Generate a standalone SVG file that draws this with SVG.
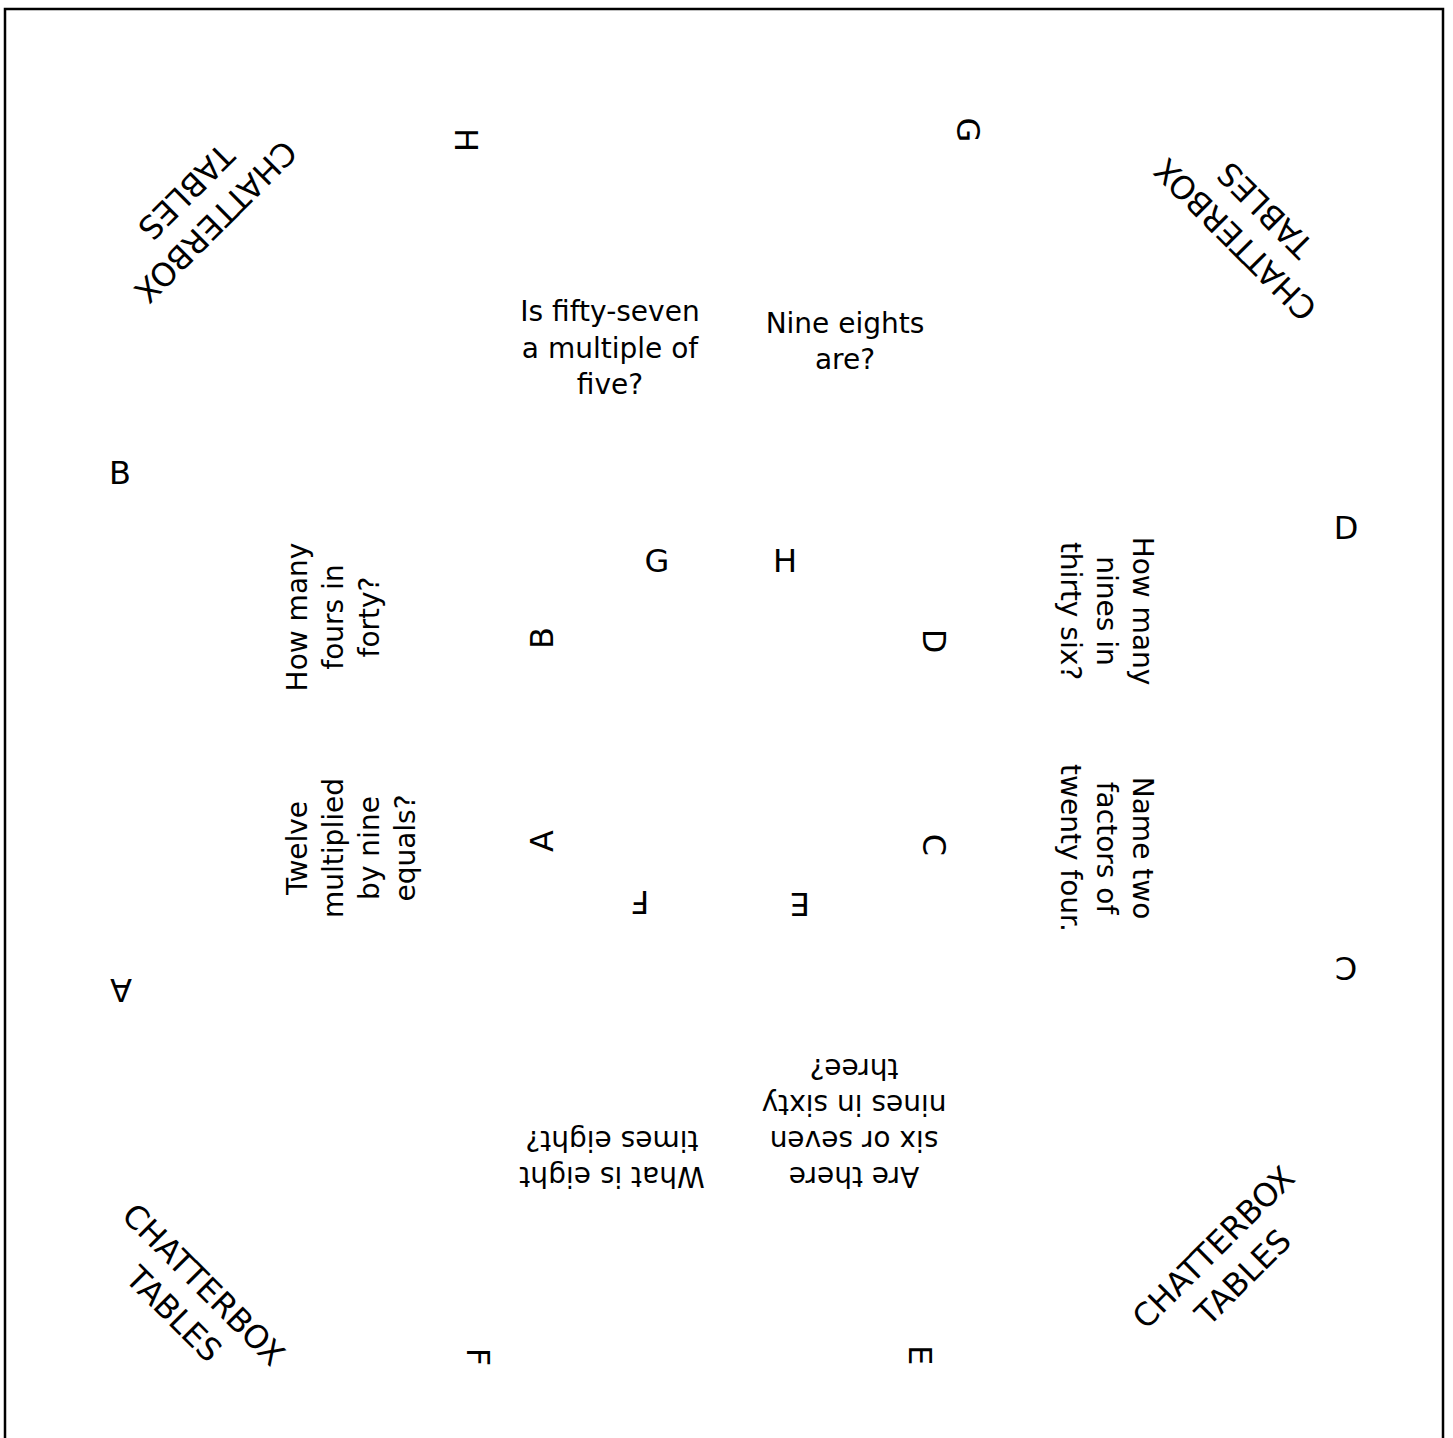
<svg xmlns="http://www.w3.org/2000/svg" width="1453" height="1438" viewBox="0 0 1453 1438">
<style>
text{font-family:"DejaVu Sans",sans-serif;fill:#000;text-anchor:middle}
.q{font-size:28px}
.l{font-size:32px}
.c{font-size:32px}
</style>
<rect x="0" y="0" width="1453" height="1438" fill="#fff"/>
<rect x="5" y="9" width="1438" height="1445" fill="none" stroke="#000" stroke-width="2.5"/>

<!-- corner titles -->
<g id="title-tl" transform="translate(201,207) rotate(135)">
<text class="c" y="-9.5">CHATTERBOX</text><text class="c" y="32.5">TABLES</text></g>
<g id="title-tr" transform="translate(1250,225) rotate(-135)">
<text class="c" y="-9.5">CHATTERBOX</text><text class="c" y="32.5">TABLES</text></g>
<g id="title-bl" transform="translate(189,1299) rotate(45)">
<text class="c" y="-9.5">CHATTERBOX</text><text class="c" y="32.5">TABLES</text></g>
<g id="title-br" transform="translate(1228,1262) rotate(-45)">
<text class="c" y="-9.5">CHATTERBOX</text><text class="c" y="32.5">TABLES</text></g>

<!-- questions -->
<g id="q-top-left"><text class="q" x="610" y="321">Is fifty-seven</text><text class="q" x="610" y="357.5">a multiple of</text><text class="q" x="610" y="394">five?</text></g>
<g id="q-top-right"><text class="q" x="845" y="333">Nine eights</text><text class="q" x="845" y="369">are?</text></g>
<g id="q-left-top" transform="translate(0,617) rotate(-90)"><text class="q" y="307">How many</text><text class="q" y="343">fours in</text><text class="q" y="379">forty?</text></g>
<g id="q-left-bottom" transform="translate(0,848) rotate(-90)"><text class="q" y="307">Twelve</text><text class="q" y="343">multiplied</text><text class="q" y="379">by nine</text><text class="q" y="415">equals?</text></g>
<g id="q-right-top" transform="translate(0,611) rotate(90)"><text class="q" y="-1133">How many</text><text class="q" y="-1097">nines in</text><text class="q" y="-1061">thirty six?</text></g>
<g id="q-right-bottom" transform="translate(0,848) rotate(90)"><text class="q" y="-1133">Name two</text><text class="q" y="-1097">factors of</text><text class="q" y="-1061">twenty four.</text></g>
<g id="q-bottom-left" transform="translate(612,0) rotate(180)"><text class="q" y="-1167">What is eight</text><text class="q" y="-1131">times eight?</text></g>
<g id="q-bottom-right" transform="translate(854,0) rotate(180)"><text class="q" y="-1167">Are there</text><text class="q" y="-1131">six or seven</text><text class="q" y="-1095">nines in sixty</text><text class="q" y="-1059">three?</text></g>

<!-- inner letters -->
<g id="inner-letters">
<text class="l" x="657" y="572">G</text>
<text class="l" x="785" y="572">H</text>
<g transform="translate(541,638) rotate(-90)"><text class="l" y="11.5">B</text></g>
<g transform="translate(541,841) rotate(-90)"><text class="l" y="11.5">A</text></g>
<g transform="translate(640,902) rotate(180)"><text class="l" y="11.5">F</text></g>
<g transform="translate(800,904) rotate(180)"><text class="l" y="11.5">E</text></g>
<g transform="translate(934,641) rotate(90)"><text class="l" y="11.5">D</text></g>
<g transform="translate(934,845) rotate(90)"><text class="l" y="11.5">C</text></g>
</g>

<!-- outer letters -->
<g id="outer-letters">
<g transform="translate(466,140) rotate(90)"><text class="l" y="11.5">H</text></g>
<g transform="translate(968,130) rotate(90)"><text class="l" y="11.5">G</text></g>
<text class="l" x="120" y="483.5">B</text>
<text class="l" x="1346" y="538.5">D</text>
<g transform="translate(121,990) rotate(180)"><text class="l" y="11.5">A</text></g>
<g transform="translate(1346,968) rotate(180)"><text class="l" y="11.5">C</text></g>
<g transform="translate(478,1357) rotate(90)"><text class="l" y="11.5">F</text></g>
<g transform="translate(920,1355) rotate(90)"><text class="l" y="11.5">E</text></g>
</g>
</svg>
